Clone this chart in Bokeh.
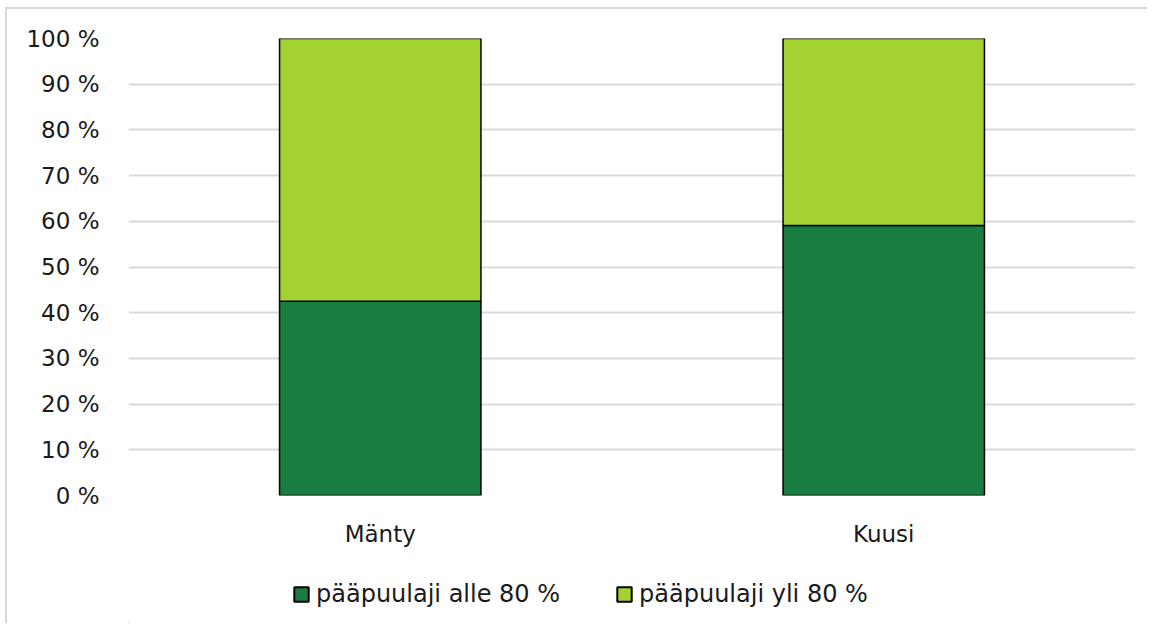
from bokeh.plotting import figure
from bokeh.layouts import column
from bokeh.models import ColumnDataSource, Legend, LegendItem, FactorRange, PrintfTickFormatter, FixedTicker
from bokeh.embed import file_html
from bokeh.resources import INLINE

categories = ["Mänty", "Kuusi"]
alle_80 = [42.5, 59.1]
yli_80 = [57.5, 40.9]
series_names = ["pääpuulaji alle 80 %", "pääpuulaji yli 80 %"]
colors = ["#1a7d40", "#a4d233"]
y_ticks = [0, 10, 20, 30, 40, 50, 60, 70, 80, 90, 100]

FONT = "DejaVu Sans"
FSIZE = "23px"
TCOL = "#1a1a1a"

src = ColumnDataSource(data=dict(cat=categories, alle=alle_80, yli=yli_80))

p = figure(x_range=FactorRange(*categories, range_padding=0), y_range=(0, 100),
           width=1140, height=550, output_backend="svg", toolbar_location=None,
           min_border_left=121, min_border_right=12, min_border_top=29, min_border_bottom=64)

r = p.vbar_stack(["alle", "yli"], x="cat", width=0.4, source=src, color=colors,
                 line_color="black", line_width=1.5)

p.outline_line_color = None
p.background_fill_color = "white"
p.border_fill_color = "white"

p.xgrid.grid_line_color = None
p.ygrid.grid_line_color = "#d9d9d9"
p.ygrid.grid_line_width = 2
p.ygrid.ticker = FixedTicker(ticks=y_ticks)

p.yaxis.ticker = FixedTicker(ticks=y_ticks)
p.yaxis.formatter = PrintfTickFormatter(format="%d %%")
for ax in (p.xaxis, p.yaxis):
    ax.axis_line_color = None
    ax.major_tick_line_color = None
    ax.minor_tick_line_color = None
    ax.major_label_text_font = FONT
    ax.major_label_text_font_size = FSIZE
    ax.major_label_text_color = TCOL
p.yaxis.major_label_standoff = 23
p.xaxis.major_label_standoff = 19

# Legend panel (separate small figure below the chart, frame aligned with the chart)
lg = figure(width=1140, height=64, output_backend="svg", toolbar_location=None,
            x_range=(0, 1), y_range=(0, 1),
            min_border_left=121, min_border_right=12, min_border_top=0, min_border_bottom=0)
lg.axis.visible = False
lg.grid.grid_line_color = None
lg.outline_line_color = None
lg.border_fill_color = "white"
lr = [lg.vbar(x=[-10], top=[0], width=0.1, fill_color=c,
              line_color="black", line_width=2) for c in colors]

legend = Legend(items=[LegendItem(label=series_names[i], renderers=[lr[i]]) for i in range(2)],
                orientation="horizontal", location=(164, 15),
                label_text_font=FONT, label_text_font_size="24px", label_text_color=TCOL,
                glyph_width=18, glyph_height=18, label_standoff=6, spacing=55,
                border_line_color=None, background_fill_alpha=0, margin=0, padding=0)
lg.add_layout(legend, "center")

layout = column(p, lg, spacing=0)
layout.styles = {"border-top": "2px solid #d9d9d9", "border-left": "2px solid #d9d9d9",
                 "margin-left": "5px", "margin-top": "7px"}

open("out.html", "w").write(file_html(layout, INLINE))
